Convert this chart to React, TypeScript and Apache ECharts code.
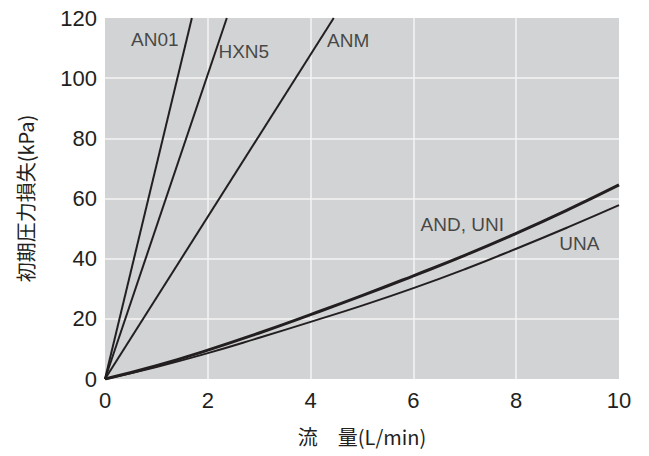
import React, { useEffect, useRef } from "react";
import * as echarts from "echarts";

// flow (L/min) ticks
const xTicks = [0, 2, 4, 6, 8, 10];
const yTicks = [0, 20, 40, 60, 80, 100, 120];

// Straight-line models (flow, pressure loss kPa)
const an01: [number, number][] = [[0, 0], [1.69, 120]];
const hxn5: [number, number][] = [[0, 0], [2.37, 120]];
const anm: [number, number][] = [[0, 0], [4.45, 120]];

// Curved models sampled at each 1 L/min
const flowPts = [0, 1, 2, 3, 4, 5, 6, 7, 8, 9, 10];
const andUni = [0, 4.4, 9.6, 15.3, 21.4, 27.7, 34.3, 41.1, 48.4, 56.2, 64.5];
const una = [0, 4.0, 8.6, 13.7, 19.0, 24.4, 30.2, 36.5, 43.3, 50.4, 57.8];

// Label anchor positions in data units
const labelNames = ["AN01", "HXN5", "ANM", "AND, UNI", "UNA"];
const labelX = [0.97, 2.7, 4.73, 6.95, 9.23];
const labelY = [113, 109, 112.4, 51.2, 45.1];

const INK = "#231f20";
const FONT = "'Liberation Sans', Arial, sans-serif";
const CJK = "'Noto Sans CJK JP', 'Liberation Sans', sans-serif";

export default function App() {
  const ref = useRef<HTMLDivElement>(null);
  useEffect(() => {
    if (!ref.current) return;
    const chart = echarts.init(ref.current, null, { renderer: "svg" });
    const mk = (name: string, data: [number, number][], w: number, smooth: number | boolean) => ({
      type: "line",
      name,
      data,
      showSymbol: false,
      symbol: "none",
      smooth,
      lineStyle: { color: INK, width: w },
      itemStyle: { color: INK },
      clip: true,
      z: 3,
    });
    chart.setOption({
      animation: false,
      backgroundColor: "#ffffff",
      grid: {
        left: 105,
        right: 30,
        top: 18,
        bottom: 77,
        show: true,
        backgroundColor: "#d1d3d4",
        borderWidth: 0,
      },
      xAxis: {
        type: "value",
        min: xTicks[0],
        max: xTicks[xTicks.length - 1],
        interval: 2,
        axisLine: { show: false },
        axisTick: { show: false },
        axisLabel: { fontSize: 22, color: INK, fontFamily: FONT, margin: 10 },
        splitLine: {
          show: true,
          showMinLine: false,
          showMaxLine: false,
          lineStyle: { color: "#f4f4f4", width: 1.5 },
        },
        name: "流　量(L/min)",
        nameLocation: "middle",
        nameGap: 47,
        nameTextStyle: { fontSize: 20, color: INK, fontFamily: CJK },
      },
      yAxis: {
        type: "value",
        min: yTicks[0],
        max: yTicks[yTicks.length - 1],
        interval: 20,
        axisLine: { show: false },
        axisTick: { show: false },
        axisLabel: { fontSize: 22, color: INK, fontFamily: FONT, margin: 8 },
        splitLine: {
          show: true,
          showMinLine: false,
          showMaxLine: false,
          lineStyle: { color: "#f4f4f4", width: 1.5 },
        },
        name: "初期圧力損失(kPa)",
        nameLocation: "middle",
        nameRotate: 90,
        nameGap: 70,
        nameTextStyle: { fontSize: 20, color: INK, fontFamily: CJK },
      },
      series: [
        mk("AN01", an01, 2, false),
        mk("HXN5", hxn5, 2, false),
        mk("ANM", anm, 2, false),
        mk("AND, UNI", flowPts.map((x, i) => [x, andUni[i]]), 3, 0.5),
        mk("UNA", flowPts.map((x, i) => [x, una[i]]), 2, 0.5),
        {
          type: "scatter",
          symbolSize: 0,
          silent: true,
          z: 4,
          data: labelNames.map((n, i) => ({ name: n, value: [labelX[i], labelY[i]] })),
          label: {
            show: true,
            position: "inside",
            formatter: "{b}",
            fontSize: 19,
            color: INK,
            fontFamily: FONT,
          },
        },
      ],
    });
    return () => chart.dispose();
  }, []);
  return (
    <div
      ref={ref}
      style={{ position: "fixed", left: 0, top: 0, width: 649, height: 456 }}
    />
  );
}
